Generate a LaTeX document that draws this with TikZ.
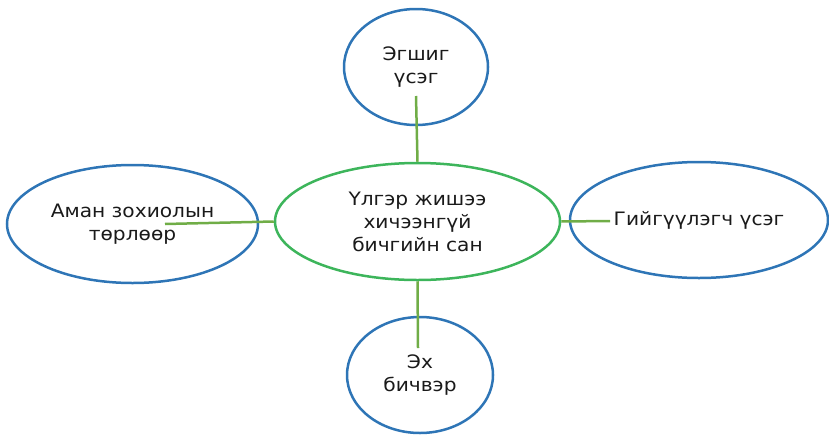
\documentclass[tikz,border=0pt]{standalone}
\usepackage{fontspec}
\setmainfont[FakeStretch=1.09]{DejaVu Sans}
\usetikzlibrary{shapes.geometric}
\definecolor{ringblue}{HTML}{2E75B6}
\definecolor{ringgreen}{HTML}{3DB55B}
\definecolor{linkgreen}{HTML}{70AD47}
\definecolor{txt}{HTML}{1A1A1A}
\begin{document}
\begin{tikzpicture}[x=1pt,y=-1pt,
  bubble/.style={ellipse, draw=ringblue, line width=2.5pt, inner sep=0pt,
    align=center, text=txt, font=\fontsize{18.5}{23}\selectfont},
  hub/.style={bubble, draw=ringgreen},
  link/.style={draw=linkgreen, line width=2.5pt}]
\useasboundingbox (0,0) rectangle (829,434);
\node[hub, minimum width=285pt, minimum height=117pt] (c) at (417.5,221.5)
  {Үлгэр жишээ\\хичээнгүй\\бичгийн сан};
\node[bubble, minimum width=144pt, minimum height=116pt] (t) at (416,67)
  {Эгшиг\\үсэг};
\node[bubble, minimum width=251pt, minimum height=118pt] (l) at (132.5,224)
  {Аман зохиолын\\төрлөөр};
\node[bubble, minimum width=258pt, minimum height=116pt] (r) at (699,220)
  {Гийгүүлэгч үсэг};
\node[bubble, minimum width=146pt, minimum height=116pt] (b) at (420,375)
  {Эх\\бичвэр};
\coordinate (tin) at (416,96);
\coordinate (lin) at (165,224);
\coordinate (rin) at (610,221);
\coordinate (bin) at (418,348);
\draw[link] (tin) -- (c.north);
\draw[link] (lin) -- (c.west);
\draw[link] (c.east) -- (rin);
\draw[link] (c.south) -- (bin);
\end{tikzpicture}
\end{document}
